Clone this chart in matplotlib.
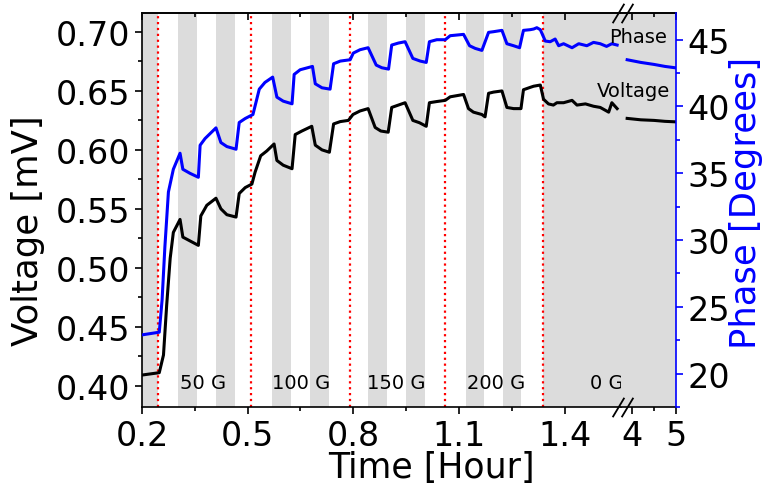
import matplotlib
matplotlib.use("Agg")
import matplotlib.pyplot as plt
import matplotlib.transforms as mtransforms
from matplotlib.ticker import FixedLocator, MultipleLocator, FormatStrFormatter

# Voltage [mV] vs time [hour], left part of the broken axis
t_volt = [0.200, 0.249, 0.261, 0.270, 0.280, 0.289, 0.308, 0.316, 0.360, 0.367,
          0.384, 0.410, 0.424, 0.441, 0.467, 0.476, 0.493, 0.512, 0.521, 0.537,
          0.554, 0.575, 0.583, 0.601, 0.626, 0.635, 0.654, 0.682, 0.692, 0.711,
          0.732, 0.744, 0.763, 0.786, 0.799, 0.819, 0.842, 0.862, 0.878, 0.899,
          0.909, 0.928, 0.947, 0.969, 0.988, 1.007, 1.016, 1.037, 1.061, 1.075,
          1.113, 1.127, 1.141, 1.165, 1.174, 1.184, 1.198, 1.222, 1.236, 1.255,
          1.276, 1.283, 1.302, 1.312, 1.331, 1.340, 1.354, 1.368, 1.378, 1.397,
          1.421, 1.435, 1.459, 1.482, 1.501, 1.525, 1.534, 1.549]
voltage = [0.409, 0.411, 0.426, 0.468, 0.508, 0.530, 0.541, 0.526, 0.519, 0.544,
           0.553, 0.559, 0.550, 0.545, 0.543, 0.563, 0.568, 0.571, 0.581, 0.595,
           0.599, 0.605, 0.591, 0.587, 0.584, 0.613, 0.616, 0.620, 0.604, 0.600,
           0.598, 0.622, 0.624, 0.625, 0.630, 0.633, 0.635, 0.619, 0.616, 0.615,
           0.636, 0.638, 0.640, 0.625, 0.623, 0.620, 0.640, 0.641, 0.642, 0.645,
           0.647, 0.635, 0.632, 0.630, 0.628, 0.648, 0.649, 0.650, 0.636, 0.635,
           0.635, 0.651, 0.653, 0.654, 0.655, 0.643, 0.639, 0.638, 0.640, 0.640,
           0.642, 0.638, 0.639, 0.637, 0.636, 0.632, 0.640, 0.635]

# Phase [degrees] vs time [hour], left part
t_phase = [0.200, 0.249, 0.257, 0.265, 0.275, 0.289, 0.308, 0.316, 0.336, 0.360,
           0.365, 0.379, 0.410, 0.424, 0.441, 0.467, 0.476, 0.493, 0.515, 0.533,
           0.549, 0.571, 0.583, 0.601, 0.626, 0.632, 0.649, 0.684, 0.692, 0.711,
           0.734, 0.744, 0.763, 0.791, 0.800, 0.819, 0.842, 0.865, 0.881, 0.900,
           0.909, 0.928, 0.947, 0.969, 0.990, 1.007, 1.016, 1.037, 1.061, 1.075,
           1.113, 1.130, 1.146, 1.165, 1.184, 1.198, 1.222, 1.236, 1.255, 1.272,
           1.283, 1.302, 1.312, 1.321, 1.331, 1.345, 1.359, 1.373, 1.383, 1.397,
           1.421, 1.440, 1.463, 1.482, 1.501, 1.519, 1.534, 1.549]
phase = [22.9, 23.1, 25.5, 29.5, 33.6, 35.3, 36.5, 35.3, 35.0, 34.7,
         37.1, 37.6, 38.4, 37.3, 37.0, 36.8, 38.8, 39.1, 39.4, 41.3,
         41.8, 42.2, 40.7, 40.4, 40.2, 42.4, 42.75, 43.0, 41.7, 41.4,
         41.3, 43.2, 43.4, 43.5, 44.0, 44.25, 44.4, 43.1, 42.9, 42.8,
         44.6, 44.75, 44.85, 43.6, 43.4, 43.3, 44.85, 45.0, 45.0, 45.3,
         45.4, 44.55, 44.35, 44.2, 45.55, 45.6, 45.7, 44.7, 44.55, 44.4,
         45.7, 45.75, 45.8, 45.9, 45.75, 44.9, 44.85, 45.05, 44.55, 44.7,
         44.4, 44.7, 44.55, 44.8, 44.7, 44.5, 44.7, 44.6]

# right part of the broken axis (long time, 0 G)
t_late = [3.89, 4.2, 4.5, 4.75, 4.98]
voltage_late = [0.6267, 0.6255, 0.6250, 0.6242, 0.6238]
phase_late = [43.5, 43.3, 43.15, 43.0, 42.9]

# field switch times (red dotted) and field-off (grey) intervals
switch_times = [0.245, 0.509, 0.791, 1.061, 1.338]
grey_bands = [(0.200, 0.245), (0.303, 0.355), (0.410, 0.464), (0.569, 0.622),
              (0.677, 0.731), (0.842, 0.896), (0.950, 1.004), (1.120, 1.172),
              (1.225, 1.276), (1.338, 1.560)]
field_labels = ["50 G", "100 G", "150 G", "200 G", "0 G"]
field_label_x = [0.373, 0.651, 0.921, 1.206, 1.521]

XLIM_LEFT = (0.2, 1.56)
XLIM_RIGHT = (3.75, 5.0)
VLIM = (0.3819, 0.7161)
PLIM = (17.5, 47.0)
GREY = "#dcdcdc"

W, H = 766, 485
fig = plt.figure(figsize=(W / 100, H / 100), dpi=100)


def box(x0, y0, x1, y1):
    return [x0 / W, 1 - y1 / H, (x1 - x0) / W, (y1 - y0) / H]


ax1 = fig.add_axes(box(142, 14, 621, 408))
ax2 = fig.add_axes(box(621, 14, 676, 408))
ax1p = ax1.twinx()
ax2p = ax2.twinx()

# backgrounds
for a, b in grey_bands:
    ax1.axvspan(a, b, color=GREY, lw=0, zorder=0)
ax2.axvspan(*XLIM_RIGHT, color=GREY, lw=0, zorder=0)
for x in switch_times:
    ax1.axvline(x, color="red", ls=":", lw=1.6, zorder=1)

# data
ax1.plot(t_volt, voltage, color="black", lw=2.2, zorder=3)
ax2.plot(t_late, voltage_late, color="black", lw=2.2, zorder=3)
ax1p.plot(t_phase, phase, color="blue", lw=2.2)
ax2p.plot(t_late, phase_late, color="blue", lw=2.2)

for a in (ax1, ax1p):
    a.set_xlim(*XLIM_LEFT)
for a in (ax2, ax2p):
    a.set_xlim(*XLIM_RIGHT)
ax1.set_ylim(*VLIM)
ax2.set_ylim(*VLIM)
ax1p.set_ylim(*PLIM)
ax2p.set_ylim(*PLIM)

# spines
SW = 1.2
for a in (ax1, ax2, ax1p, ax2p):
    for s in a.spines.values():
        s.set_linewidth(SW)
ax1.spines["right"].set_visible(False)
ax2.spines["left"].set_visible(False)
for s in ax1p.spines.values():
    s.set_visible(False)
ax2p.spines["left"].set_visible(False)
ax2p.spines["top"].set_visible(False)
ax2p.spines["bottom"].set_visible(False)
ax2.spines["right"].set_visible(False)
ax2p.spines["right"].set_color("blue")

# ticks
ax1.xaxis.set_major_locator(FixedLocator([0.2, 0.5, 0.8, 1.1, 1.4]))
ax1.xaxis.set_minor_locator(FixedLocator([0.35, 0.65, 0.95, 1.25]))
ax2.xaxis.set_major_locator(FixedLocator([4, 5]))
ax2.xaxis.set_minor_locator(FixedLocator([4.5]))
ax1.yaxis.set_major_locator(MultipleLocator(0.05))
ax1.yaxis.set_minor_locator(MultipleLocator(0.025))
ax1.yaxis.set_major_formatter(FormatStrFormatter("%.2f"))
ax2p.yaxis.set_major_locator(MultipleLocator(5))
ax2p.yaxis.set_minor_locator(MultipleLocator(2.5))

for a in (ax1, ax2):
    a.tick_params(which="major", length=5, width=SW, direction="out", labelsize=24)
    a.tick_params(which="minor", length=3, width=SW, direction="out")
    sec = a.secondary_xaxis("top")
    sec.xaxis.set_major_locator(FixedLocator(a.get_xticks()))
    sec.xaxis.set_minor_locator(FixedLocator(a.xaxis.get_minorticklocs()))
    sec.tick_params(which="major", length=5, width=SW, direction="in", labeltop=False)
    sec.tick_params(which="minor", length=3, width=SW, direction="in")
    sec.spines["top"].set_linewidth(SW)
ax2.tick_params(axis="y", which="both", left=False, labelleft=False)
ax1p.tick_params(axis="y", which="both", right=False, labelright=False)
ax2p.tick_params(which="major", length=5, width=SW, color="blue", labelsize=24)
ax2p.tick_params(which="minor", length=3, width=SW, color="blue")

# break marks
for yy in (0, 1):
    for dx in (-3, 6):
        off = mtransforms.ScaledTranslation(dx / 100, 0, fig.dpi_scale_trans)
        ax2.plot([0], [yy], transform=ax2.transAxes + off, marker=[(-0.6, -1), (0.6, 1)],
                 markersize=14, color="black", mew=1.3, clip_on=False, zorder=5)

# text
trans = mtransforms.blended_transform_factory(ax1.transData, ax1.transAxes)
for x, s in zip(field_label_x, field_labels):
    ax1.text(x, 0.047, s, transform=trans, ha="center", va="baseline", fontsize=14)
fig.text(667 / W, 1 - 42.7 / H, "Phase", ha="right", va="baseline", fontsize=14)
fig.text(670 / W, 1 - 97.3 / H, "Voltage", ha="right", va="baseline", fontsize=14)

fig.text(28 / W, 1 - 231 / H, "Voltage [mV]", rotation=90, ha="center", va="center", fontsize=25.5)
fig.text(746 / W, 1 - 203 / H, "Phase [Degrees]", rotation=90, ha="center", va="center",
         fontsize=25.5, color="blue")
fig.text(431 / W, 1 - 478 / H, "Time [Hour]", ha="center", va="baseline", fontsize=25)

fig.savefig("out.png", dpi=100)
